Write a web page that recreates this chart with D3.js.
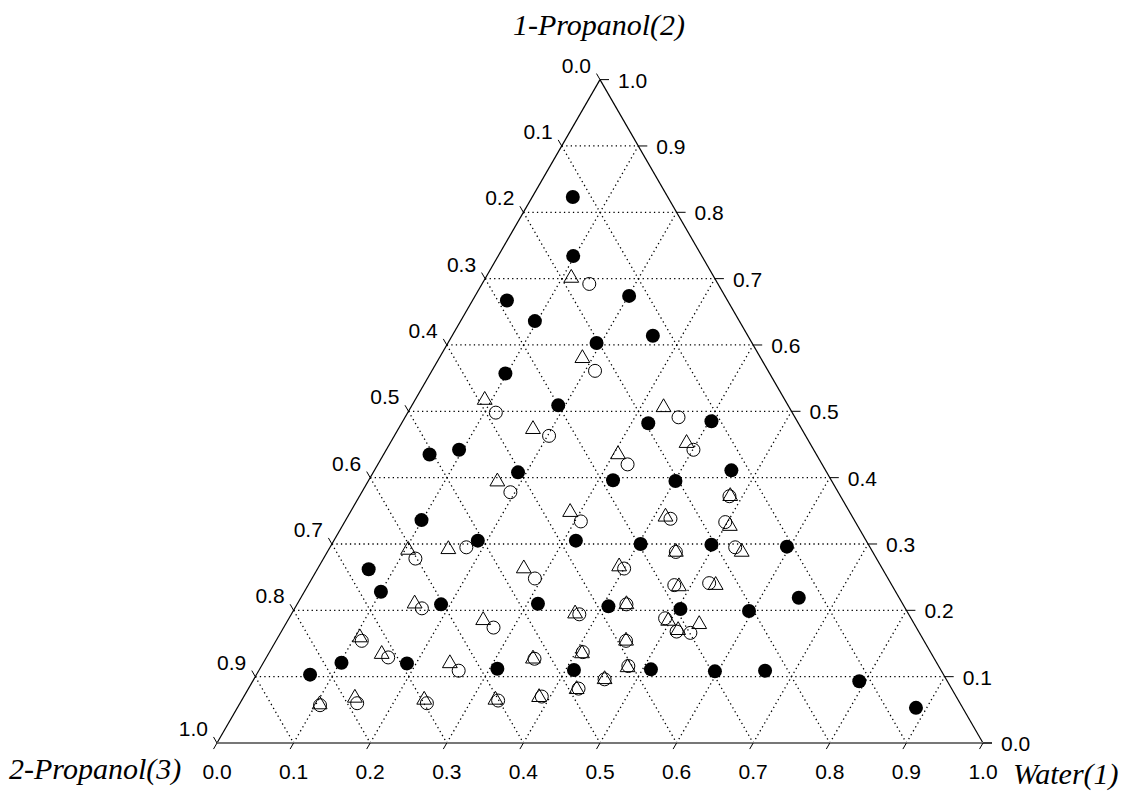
<!DOCTYPE html>
<html>
<head>
<meta charset="utf-8">
<script src="https://cdn.jsdelivr.net/npm/d3@7/dist/d3.min.js"></script>
<style>
  body { margin: 0; background: #fff; }
  svg { display: block; }
</style>
</head>
<body>
<svg id="ternary" width="1126" height="792"></svg>
<script>
// tick values along each side and their labels
const tickValues = [0, 0.1, 0.2, 0.3, 0.4, 0.5, 0.6, 0.7, 0.8, 0.9, 1.0];
const tickLabels = ["0.0", "0.1", "0.2", "0.3", "0.4", "0.5", "0.6", "0.7", "0.8", "0.9", "1.0"];
const axisNames = ["Water(1)", "1-Propanol(2)", "2-Propanol(3)"];

// points as [water x1, 1-propanol x2]; 2-propanol = 1 - x1 - x2
const filledPoints = [
  [0.053, 0.823], [0.098, 0.734], [0.045, 0.667], [0.201, 0.674], [0.097, 0.636],
  [0.194, 0.603], [0.262, 0.614], [0.098, 0.557], [0.191, 0.509], [0.322, 0.482],
  [0.403, 0.485], [0.060, 0.435], [0.095, 0.442], [0.189, 0.408], [0.319, 0.396],
  [0.401, 0.395], [0.466, 0.411], [0.099, 0.336], [0.188, 0.305], [0.316, 0.305],
  [0.403, 0.300], [0.496, 0.299], [0.596, 0.296], [0.067, 0.262], [0.100, 0.228],
  [0.188, 0.209], [0.314, 0.210], [0.408, 0.206], [0.504, 0.202], [0.595, 0.199],
  [0.650, 0.219], [0.070, 0.103], [0.102, 0.121], [0.188, 0.120], [0.310, 0.112],
  [0.411, 0.110], [0.511, 0.111], [0.596, 0.108], [0.661, 0.109], [0.792, 0.093],
  [0.886, 0.053]
];
const circlePoints = [
  [0.140, 0.692], [0.213, 0.561], [0.115, 0.498], [0.202, 0.463], [0.357, 0.491],
  [0.401, 0.442], [0.326, 0.420], [0.194, 0.378], [0.308, 0.334], [0.423, 0.338],
  [0.483, 0.372], [0.497, 0.333], [0.178, 0.295], [0.120, 0.278], [0.455, 0.288],
  [0.529, 0.295], [0.291, 0.248], [0.400, 0.263], [0.478, 0.238], [0.522, 0.241],
  [0.166, 0.203], [0.376, 0.194], [0.430, 0.209], [0.274, 0.174], [0.491, 0.188],
  [0.516, 0.168], [0.535, 0.166], [0.112, 0.154], [0.159, 0.129], [0.261, 0.109],
  [0.351, 0.127], [0.409, 0.137], [0.457, 0.154], [0.479, 0.116], [0.458, 0.096],
  [0.431, 0.082], [0.106, 0.057], [0.153, 0.060], [0.244, 0.060], [0.335, 0.064],
  [0.389, 0.070]
];
const trianglePoints = [
  [0.112, 0.701], [0.187, 0.580], [0.091, 0.517], [0.176, 0.473], [0.330, 0.506],
  [0.387, 0.452], [0.306, 0.435], [0.169, 0.394], [0.287, 0.348], [0.415, 0.341],
  [0.484, 0.372], [0.506, 0.327], [0.156, 0.292], [0.104, 0.291], [0.455, 0.288],
  [0.541, 0.288], [0.269, 0.263], [0.392, 0.266], [0.485, 0.236], [0.532, 0.238],
  [0.153, 0.210], [0.370, 0.195], [0.430, 0.209], [0.255, 0.185], [0.497, 0.184],
  [0.517, 0.170], [0.540, 0.179], [0.107, 0.159], [0.148, 0.134], [0.244, 0.120],
  [0.349, 0.127], [0.409, 0.135], [0.457, 0.154], [0.479, 0.114], [0.458, 0.096],
  [0.429, 0.081], [0.105, 0.058], [0.146, 0.068], [0.238, 0.065], [0.331, 0.065],
  [0.386, 0.069]
];

const svg = d3.select("#ternary");

const left = 217, bottom = 743, side = 766;
const heightT = side * Math.sqrt(3) / 2;

// horizontal position from (water + propanol/2), vertical from propanol
const x = d3.scaleLinear().domain([0, 1]).range([left, left + side]);
const y = d3.scaleLinear().domain([0, 1]).range([bottom, bottom - heightT]);

function pos(x1, x2) {
    return [x(x1 + x2 / 2), y(x2)];
}

const labelFont = "'Liberation Sans', Arial, sans-serif";
const titleFont = "'Liberation Serif', 'Times New Roman', serif";

// Dotted grid lines
const grid = svg.append("g")
    .attr("fill", "none")
    .attr("stroke", "#000")
    .attr("stroke-width", 1.3)
    .attr("stroke-dasharray", "1.3,3.2");

tickValues.slice(1, -1).forEach(k => {
    // constant propanol-1 (horizontal)
    let a = pos(0, k), b = pos(1 - k, k);
    grid.append("line").attr("x1", a[0]).attr("y1", a[1]).attr("x2", b[0]).attr("y2", b[1]);
    // constant water
    a = pos(k, 0); b = pos(k, 1 - k);
    grid.append("line").attr("x1", a[0]).attr("y1", a[1]).attr("x2", b[0]).attr("y2", b[1]);
    // constant propanol-2
    a = pos(0, 1 - k); b = pos(1 - k, 0);
    grid.append("line").attr("x1", a[0]).attr("y1", a[1]).attr("x2", b[0]).attr("y2", b[1]);
});

// Triangle edges
const pBL = pos(0, 0), pBR = pos(1, 0), pTop = pos(0, 1);
svg.append("line")
    .attr("x1", pBL[0]).attr("y1", pBL[1]).attr("x2", pTop[0]).attr("y2", pTop[1])
    .attr("stroke", "#000").attr("stroke-width", 1.2);
svg.append("line")
    .attr("x1", pBR[0]).attr("y1", pBR[1]).attr("x2", pTop[0]).attr("y2", pTop[1])
    .attr("stroke", "#000").attr("stroke-width", 1.2);
svg.append("line")
    .attr("x1", pBL[0]).attr("y1", pBL[1]).attr("x2", pBR[0] + 9).attr("y2", pBR[1])
    .attr("stroke", "#777").attr("stroke-width", 2);

// Ticks and labels
const ticks = svg.append("g").attr("stroke", "#000").attr("stroke-width", 1);
const labels = svg.append("g")
    .style("font-family", labelFont)
    .style("font-size", "21px")
    .attr("fill", "#000");

const tl = 7;
tickValues.forEach((k, i) => {
    // bottom: water, tick slants down-left
    let p = pos(k, 0);
    ticks.append("line")
        .attr("x1", p[0]).attr("y1", p[1])
        .attr("x2", p[0] - tl * 0.5).attr("y2", p[1] + tl * 0.866);
    labels.append("text")
        .attr("x", p[0]).attr("y", 779)
        .attr("text-anchor", "middle")
        .text(tickLabels[i]);

    // right: propanol-1, tick horizontal
    p = pos(1 - k, k);
    ticks.append("line")
        .attr("x1", p[0]).attr("y1", p[1])
        .attr("x2", p[0] + 9).attr("y2", p[1]);
    labels.append("text")
        .attr("x", p[0] + 18).attr("y", p[1] + 8)
        .text(tickLabels[i]);

    // left: propanol-2, tick slants up-left
    p = pos(0, 1 - k);
    ticks.append("line")
        .attr("x1", p[0]).attr("y1", p[1])
        .attr("x2", p[0] - tl * 0.5).attr("y2", p[1] - tl * 0.866);
    labels.append("text")
        .attr("x", p[0] - 9).attr("y", p[1] - 7)
        .attr("text-anchor", "end")
        .text(tickLabels[i]);
});

// Axis titles
const titles = svg.append("g")
    .style("font-family", titleFont)
    .style("font-style", "italic")
    .style("font-size", "30px")
    .attr("fill", "#000");
titles.append("text").attr("x", 599).attr("y", 35).attr("text-anchor", "middle").text(axisNames[1]);
titles.append("text").attr("x", 9).attr("y", 779).text(axisNames[2]);
titles.append("text").attr("x", 1013).attr("y", 784).text(axisNames[0]);

// Points
svg.append("g").selectAll("circle")
    .data(filledPoints)
    .join("circle")
    .attr("cx", d => pos(d[0], d[1])[0])
    .attr("cy", d => pos(d[0], d[1])[1])
    .attr("r", 7)
    .attr("fill", "#000");

svg.append("g").selectAll("circle")
    .data(circlePoints)
    .join("circle")
    .attr("cx", d => pos(d[0], d[1])[0])
    .attr("cy", d => pos(d[0], d[1])[1])
    .attr("r", 6.5)
    .attr("fill", "none")
    .attr("stroke", "#000")
    .attr("stroke-width", 1);

const tri = d3.symbol().type(d3.symbolTriangle).size(95);
svg.append("g").selectAll("path")
    .data(trianglePoints)
    .join("path")
    .attr("d", tri)
    .attr("transform", d => `translate(${pos(d[0], d[1])[0]},${pos(d[0], d[1])[1]})`)
    .attr("fill", "none")
    .attr("stroke", "#000")
    .attr("stroke-width", 1);
</script>
</body>
</html>
